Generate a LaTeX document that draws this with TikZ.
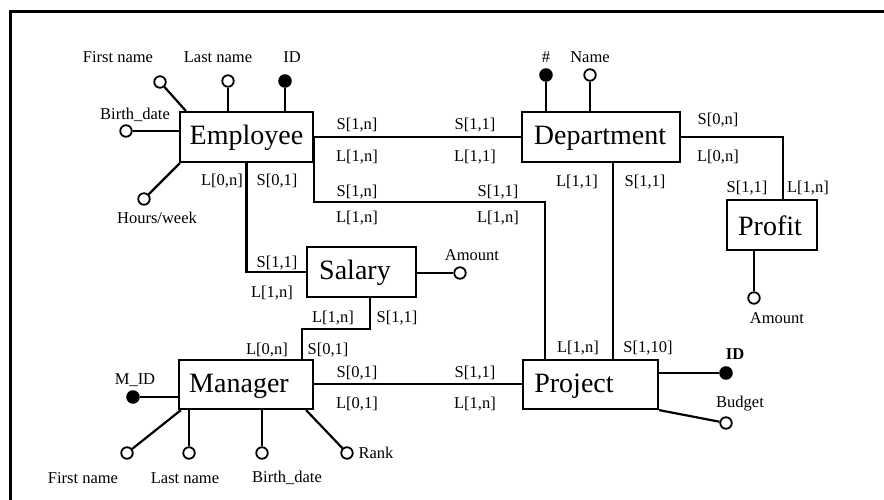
\documentclass[tikz,border=0pt]{standalone}
\usepackage{fontspec}
\setmainfont{Liberation Serif}
\begin{document}
\begin{tikzpicture}[x=1pt,y=-1pt,
  conn/.style={line width=2.2pt},
  thinconn/.style={line width=1.5pt},
  entbox/.style={draw,line width=2.2pt,rectangle,inner sep=0pt},
  enttext/.style={inner sep=0pt,font=\fontsize{28}{30}\selectfont},
  lab/.style={inner sep=0pt,font=\fontsize{16.5}{18}\selectfont},
  attr/.style={circle,draw,line width=1.8pt,fill=white,minimum size=11.5pt,inner sep=0pt},
  keyattr/.style={circle,draw,line width=1.5pt,fill=black,minimum size=12pt,inner sep=0pt}]
\useasboundingbox (0,0) rectangle (884,500);
\draw[line width=3pt] (10,500) -- (10,12) -- (884,12);

% entity boxes
\node[entbox,minimum width=133pt,minimum height=50pt] (emp) at (246.5,137) {};
\node[entbox,minimum width=158pt,minimum height=50pt] (dep) at (601,137) {};
\node[entbox,minimum width=90pt,minimum height=50pt] (prof) at (772,225) {};
\node[entbox,minimum width=109pt,minimum height=50pt] (sal) at (361.5,272) {};
\node[entbox,minimum width=134pt,minimum height=49pt] (man) at (246,384.5) {};
\node[entbox,minimum width=135pt,minimum height=49pt] (proj) at (590.5,384.5) {};

\node[enttext] (tEmp) at (246.5,138) {Employee};
\node[enttext] (tDep) at (600,138) {Department};
\node[enttext] (tProf) at (770,226) {Profit};
\node[enttext] (tSal) at (355,273) {Salary};
\node[enttext] (tMan) at (239,386) {Manager};
\node[enttext] (tProj) at (574,386) {Project};

% attribute circles
\node[attr] (efn) at (160,82) {};
\node[attr] (eln) at (228,81) {};
\node[keyattr] (eid) at (285,81) {};
\node[attr] (ebd) at (126,131) {};
\node[attr] (ehw) at (144,199) {};
\node[keyattr] (dhash) at (546,75) {};
\node[attr] (dname) at (590,75) {};
\node[attr] (pamt) at (754,298) {};
\node[attr] (samt) at (460,273) {};
\node[keyattr] (mid) at (133,397) {};
\node[attr] (mfn) at (127,453) {};
\node[attr] (mln) at (189,453) {};
\node[attr] (mbd) at (262,453) {};
\node[attr] (mrk) at (347,453) {};
\node[keyattr] (pid) at (726,373) {};
\node[attr] (pbud) at (726,423) {};

% helper coordinates
\coordinate (c1) at (545,202);
\coordinate (c2) at (370,329);
\coordinate (c3) at (302,329);
\coordinate (c4) at (613,250);
\coordinate (c5) at (783,137);

% attribute lines
\draw[conn] (efn) -- ([xshift=7pt]emp.north west);
\draw[conn] (eln) -- (eln |- emp.north);
\draw[conn] (eid) -- (eid |- emp.north);
\draw[conn] (ebd) -- (ebd -| emp.west);
\draw[conn] (ehw) -- ([xshift=1pt]emp.south west);
\draw[conn] (dhash) -- (dhash |- dep.north);
\draw[conn] (dname) -- (dname |- dep.north);
\draw[conn] (pamt) -- (pamt |- prof.south);
\draw[conn] (samt) -- (samt -| sal.east);
\draw[conn] (mid) -- (mid -| man.west);
\draw[conn] (mfn) -- ([xshift=3pt]man.south west);
\draw[conn] (mln) -- (mln |- man.south);
\draw[conn] (mbd) -- (mbd |- man.south);
\draw[conn] (mrk) -- ([xshift=-8pt]man.south east);
\draw[thinconn] (pid) -- (pid -| proj.east);
\draw[conn] (pbud) -- (proj.south east);

% relationship lines
\draw[conn] (emp.east) -- (dep.west);
\draw[conn] (emp.east) |- (c1) -- (c1 |- proj.north);
\draw[conn] (emp.south) -- (emp.south |- sal.west) -- (sal.west);
\draw[conn] (c2 |- sal.south) -- (c2) -- (c3) -- (c3 |- man.north);
\draw[conn] ([yshift=0.5pt]man.east) -- ([yshift=0.5pt]proj.west);
\draw[thinconn] (c4 |- dep.south) -- (c4 |- proj.north);
\draw[conn] (dep.east) -- (c5) -- (c5 |- prof.north);

% attribute labels
\node[lab] (lEfn) at (118,57) {First name};
\node[lab] (lEln) at (218,57) {Last name};
\node[lab] (lEid) at (292,57) {ID};
\node[lab] (lEbd) at (135,115) {Birth\_date};
\node[lab] (lEhw) at (157,218) {Hours/week};
\node[lab] (lDh) at (546,57) {\#};
\node[lab] (lDn) at (590,57) {Name};
\node[lab] (lPa) at (777,318) {Amount};
\node[lab] (lSa) at (472,255) {Amount};
\node[lab] (lMid) at (135,380) {M\_ID};
\node[lab] (lMfn) at (83,478) {First name};
\node[lab] (lMln) at (185,478) {Last name};
\node[lab] (lMbd) at (287,478) {Birth\_date};
\node[lab] (lMrk) at (376,453) {Rank};
\node[lab,font=\bfseries\fontsize{16.5}{18}\selectfont] (lPid) at (735,354) {ID};
\node[lab] (lPb) at (740,404) {Budget};

% cardinality labels
\node[lab] (k1) at (222,181) {L[0,n]};
\node[lab] (k2) at (277,181) {S[0,1]};
\node[lab] (k3) at (357,125) {S[1,n]};
\node[lab] (k4) at (357,157) {L[1,n]};
\node[lab] (k5) at (475,125) {S[1,1]};
\node[lab] (k6) at (475,157) {L[1,1]};
\node[lab] (k7) at (357,192) {S[1,n]};
\node[lab] (k8) at (357,218) {L[1,n]};
\node[lab] (k9) at (498,192) {S[1,1]};
\node[lab] (k10) at (498,218) {L[1,n]};
\node[lab] (k11) at (577,182) {L[1,1]};
\node[lab] (k12) at (645,182) {S[1,1]};
\node[lab] (k13) at (718,120) {S[0,n]};
\node[lab] (k14) at (718,157) {L[0,n]};
\node[lab] (k15) at (747,188) {S[1,1]};
\node[lab] (k16) at (808,188) {L[1,n]};
\node[lab] (k17) at (277,263) {S[1,1]};
\node[lab] (k18) at (272,293) {L[1,n]};
\node[lab] (k19) at (333,318) {L[1,n]};
\node[lab] (k20) at (397,318) {S[1,1]};
\node[lab] (k21) at (267,350) {L[0,n]};
\node[lab] (k22) at (328,350) {S[0,1]};
\node[lab] (k23) at (357,373) {S[0,1]};
\node[lab] (k24) at (357,404) {L[0,1]};
\node[lab] (k25) at (475,373) {S[1,1]};
\node[lab] (k26) at (475,404) {L[1,n]};
\node[lab] (k27) at (578,348) {L[1,n]};
\node[lab] (k28) at (648,348) {S[1,10]};
\end{tikzpicture}
\end{document}
